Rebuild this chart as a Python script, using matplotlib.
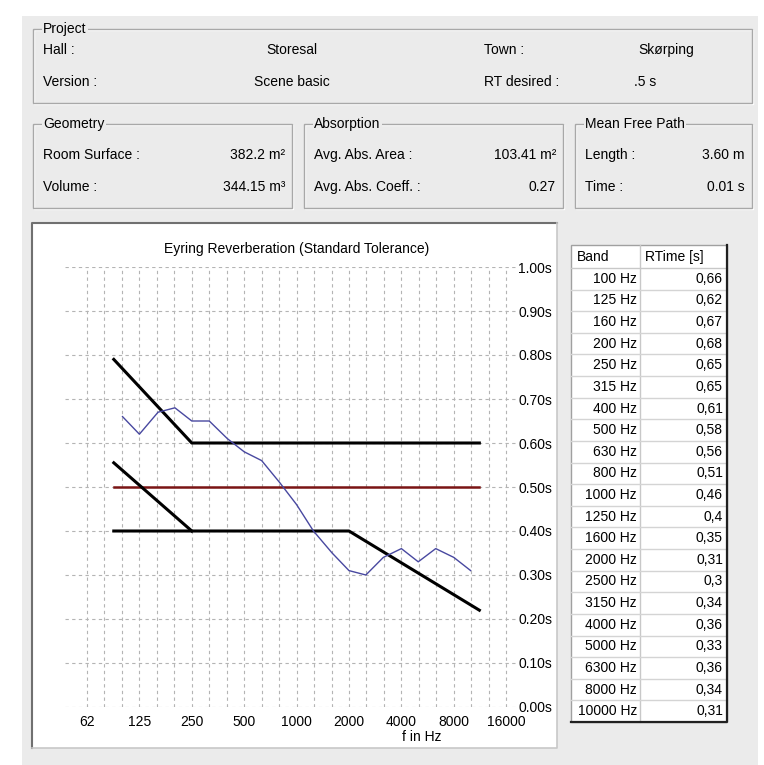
import matplotlib
matplotlib.use('Agg')
import matplotlib.pyplot as plt
from matplotlib.patches import Rectangle
import numpy as np

# third-octave bands and Eyring reverberation times
bands = [100, 125, 160, 200, 250, 315, 400, 500, 630, 800, 1000,
         1250, 1600, 2000, 2500, 3150, 4000, 5000, 6300, 8000, 10000]
rt_values = [0.66, 0.62, 0.67, 0.68, 0.65, 0.65, 0.61, 0.58, 0.56, 0.51, 0.46,
             0.4, 0.35, 0.31, 0.3, 0.34, 0.36, 0.33, 0.36, 0.34, 0.31]

# tolerance band around desired RT (0.5 s)
upper_f = [89.1, 250, 11220]
upper_t = [0.79, 0.60, 0.60]
lower_f = [89.1, 2000, 11220]
lower_t = [0.40, 0.40, 0.22]
lower_low_f = [89.1, 250]
lower_low_t = [0.555, 0.40]
desired_f = [89.1, 11220]
desired_t = [0.5, 0.5]

octave_ticks = [62.5, 125, 250, 500, 1000, 2000, 4000, 8000, 16000]
octave_labels = ['62', '125', '250', '500', '1000', '2000', '4000', '8000', '16000']
rt_ticks = [0.0, 0.1, 0.2, 0.3, 0.4, 0.5, 0.6, 0.7, 0.8, 0.9, 1.0]

project_rows = [("Hall :", "Storesal", "Town :", "Skørping"),
                ("Version :", "Scene basic", "RT desired :", ".5 s")]
geometry_rows = [("Room Surface :", "382.2 m²"), ("Volume :", "344.15 m³")]
absorption_rows = [("Avg. Abs. Area :", "103.41 m²"), ("Avg. Abs. Coeff. :", "0.27")]
mfp_rows = [("Length :", "3.60 m"), ("Time :", "0.01 s")]

plt.rcParams['font.family'] = ['Liberation Sans', 'DejaVu Sans']

W, H = 764, 765
BG = '#ebebeb'
fig = plt.figure(figsize=(W / 100, H / 100), dpi=100)
fig.patch.set_facecolor('white')

ui = fig.add_axes([0, 0, 1, 1])
ui.set_xlim(0, W)
ui.set_ylim(H, 0)
ui.axis('off')

ui.add_patch(Rectangle((22, 16), 736, 749, facecolor=BG, edgecolor='none'))


def group_box(x0, y0, x1, y1, title):
    ui.add_patch(Rectangle((x0 + 1, y0 + 1), x1 - x0, y1 - y0, fill=False,
                           edgecolor='white', lw=1))
    ui.add_patch(Rectangle((x0, y0), x1 - x0, y1 - y0, fill=False,
                           edgecolor='#a8a8a8', lw=1))
    ui.text(x0 + 10, y0, title, fontsize=10, va='center', ha='left',
            bbox=dict(facecolor=BG, edgecolor='none', pad=1))


fs = 10
group_box(33, 29, 752, 103, "Project")
for (l1, v1, l2, v2), y in zip(project_rows, [50, 82]):
    ui.text(43, y, l1, fontsize=fs, va='center')
    ui.text(292, y, v1, fontsize=fs, va='center', ha='center')
    ui.text(484, y, l2, fontsize=fs, va='center')
    if v2 == ".5 s":
        ui.text(634, y, v2, fontsize=fs, va='center')
    else:
        ui.text(666, y, v2, fontsize=fs, va='center', ha='center')

boxes = [(33, 292, "Geometry", geometry_rows),
         (304, 563, "Absorption", absorption_rows),
         (575, 752, "Mean Free Path", mfp_rows)]
for x0, x1, title, rows in boxes:
    group_box(x0, 124, x1, 208, title)
    for (lab, val), y in zip(rows, [155, 187]):
        ui.text(x0 + 10, y, lab, fontsize=fs, va='center')
        ui.text(x1 - 7, y, val, fontsize=fs, va='center', ha='right')

# chart panel
ui.add_patch(Rectangle((32, 223), 525, 525, facecolor='white', edgecolor='none'))
ui.plot([32, 32, 557], [748, 223, 223], color='#707070', lw=1.5)
ui.plot([32, 557, 557], [748, 748, 223], color='#c8c8c8', lw=1.2)
ui.text(297, 249, "Eyring Reverberation (Standard Tolerance)", fontsize=fs,
        ha='center', va='center')
ui.text(422, 737, "f in Hz", fontsize=fs, ha='center', va='center')

# band table
tx0, tx1, tcol = 571, 727, 640
ty0, thead = 245, 268
row_h = (722 - thead) / len(bands)
ui.add_patch(Rectangle((tx0, ty0), tx1 - tx0, 722 - ty0, facecolor='white',
                       edgecolor='#a0a0a0', lw=1))
ui.plot([tx0, tx1], [thead, thead], color='#c8c8c8', lw=1)
ui.plot([tcol, tcol], [ty0, 722], color='#c8c8c8', lw=1)
ui.text(577, (ty0 + thead) / 2, "Band", fontsize=fs, va='center')
ui.text(645, (ty0 + thead) / 2, "RTime [s]", fontsize=fs, va='center')
for i, (b, v) in enumerate(zip(bands, rt_values)):
    yc = thead + (i + 0.5) * row_h
    ui.plot([tx0, tx1], [thead + (i + 1) * row_h] * 2, color='#d4d4d4', lw=1)
    ui.text(637, yc, f"{b} Hz", fontsize=fs, va='center', ha='right')
    ui.text(723, yc, str(v).replace('.', ','), fontsize=fs, va='center', ha='right')
ui.plot([tx1, tx1, tx0], [ty0, 722, 722], color='#202020', lw=1.6)

# chart axes, pixel layout
px_l, px_r, px_t, px_b = 64.8, 516, 267, 707
ax = fig.add_axes([px_l / W, (H - px_b) / H, (px_r - px_l) / W, (px_b - px_t) / H])
ax.patch.set_alpha(0)
ax.set_xscale('log', base=2)
ax.set_xlim(46.6, 18220)
ax.set_ylim(0, 1.0)
for s in ax.spines.values():
    s.set_visible(False)

third = 62.5 * 2 ** (np.arange(25) / 3)
for f in third:
    ax.axvline(f, color='#b4b4b4', lw=0.8, ls=(0, (3, 3)), zorder=0)
for t in rt_ticks:
    ax.axhline(t, color='#b4b4b4', lw=0.8, ls=(0, (3, 3)), zorder=0)

ax.plot(desired_f, desired_t, color='#7a1414', lw=1.8, zorder=2)
ax.plot(upper_f, upper_t, color='black', lw=2.2, zorder=3)
ax.plot(lower_f, lower_t, color='black', lw=2.2, zorder=3)
ax.plot(lower_low_f, lower_low_t, color='black', lw=2.2, zorder=3)
ax.plot(bands, rt_values, color='#4848a0', lw=1.0, zorder=4)

ax.set_xticks(octave_ticks)
ax.set_xticklabels(octave_labels, fontsize=fs)
ax.xaxis.set_minor_locator(matplotlib.ticker.NullLocator())
ax.set_yticks(rt_ticks)
ax.set_yticklabels([f"{t:.2f}s" for t in rt_ticks], fontsize=fs)
ax.yaxis.tick_right()
ax.tick_params(axis='both', length=0)
ax.tick_params(axis='x', pad=6)
ax.tick_params(axis='y', pad=1.5)

fig.savefig('out.png', dpi=100, facecolor='white')
